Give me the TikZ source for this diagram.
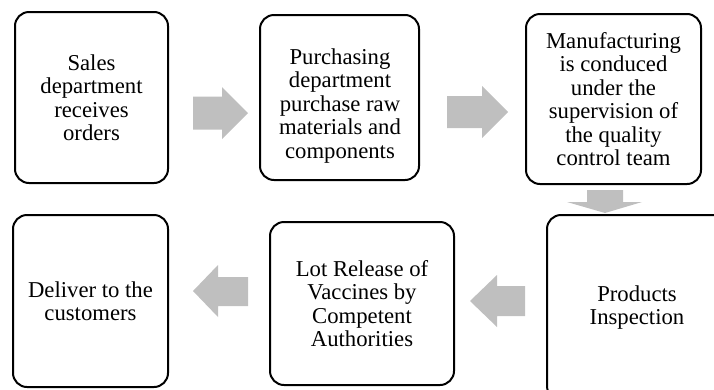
\documentclass[tikz,border=0pt]{standalone}
\usepackage{fontspec}
\setmainfont{Liberation Serif}
\usepackage{tikz}
\usetikzlibrary{shapes,arrows}
\definecolor{flowgray}{RGB}{191,191,191}
\tikzstyle{stage}=[draw, line width=2pt, rounded corners=14pt, align=center, inner sep=0pt, font=\fontsize{22.7}{23.5}\selectfont]
\tikzstyle{flow}=[fill=flowgray]

\begin{document}
\begin{tikzpicture}[x=1pt,y=-1pt]
 	\clip (0,0) rectangle (714,389);
 	\node[stage, minimum width=153pt, minimum height=171pt] (sales) at (91.5,97.5) {Sales\\department\\receives\\orders};
 	\node[stage, minimum width=159pt, minimum height=165pt] (purchase) at (339.5,97.5) {};
 	\node[stage, draw=none] (purchasetext) at (340,106) {Purchasing\\department\\purchase raw\\materials and\\components};
 	\node[stage, minimum width=175pt, minimum height=170pt] (manufacture) at (613.5,99) {Manufacturing\\is conduced\\under the\\supervision of\\the quality\\control team};
 	\node[stage, minimum width=180pt, minimum height=185pt] (inspection) at (637,307.5) {Products\\Inspection};
 	\node[stage, minimum width=184pt, minimum height=163pt] (release) at (362,303.5) {Lot Release of\\Vaccines by\\Competent\\Authorities};
 	\node[stage, minimum width=155pt, minimum height=172pt] (deliver) at (90.5,301) {Deliver to the\\customers};
 	\fill[flow] (193,96.5) -- (222,96.5) -- (222,87) -- (248,113) -- (222,139) -- (222,129.5) -- (193,129.5) -- cycle;
 	\fill[flow] (447,96) -- (482,96) -- (482,86) -- (508,112) -- (482,138) -- (482,128) -- (447,128) -- cycle;
 	\fill[flow] (587,190) -- (623,190) -- (623,202) -- (642,202) -- (605,213) -- (567,202) -- (587,202) -- cycle;
 	\fill[flow] (525,286) -- (497,286) -- (497,275) -- (470,301) -- (497,327) -- (497,316) -- (525,316) -- cycle;
 	\fill[flow] (248,277) -- (218,277) -- (218,265) -- (193,291) -- (218,317) -- (218,306) -- (248,306) -- cycle;
\end{tikzpicture}
\end{document}
